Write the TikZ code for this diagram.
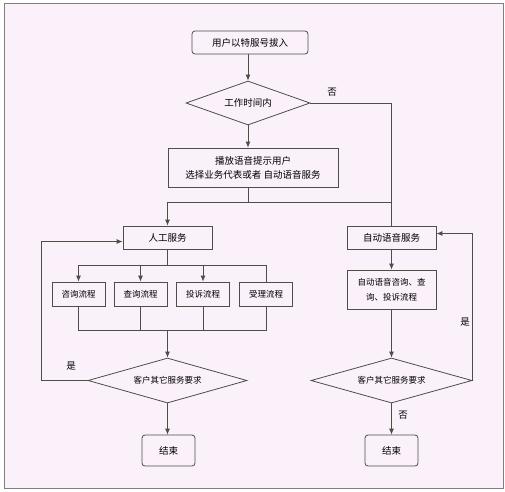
\documentclass[tikz,border=0pt]{standalone}
\usepackage{fontspec}
\newfontfamily\cjk{Noto Sans CJK SC}
\usetikzlibrary{shapes.geometric,arrows.meta}
\definecolor{bgpink}{RGB}{251,241,251}
\definecolor{linegray}{RGB}{78,78,70}
\tikzset{
  box/.style={draw=linegray, line width=0.8pt, inner sep=1pt, align=center,
    font=\cjk\fontsize{9.5}{14}\selectfont},
  rbox/.style={box, rounded corners=3pt},
  smallbox/.style={box, minimum width=53pt, minimum height=24pt,
    font=\cjk\fontsize{8.5}{12}\selectfont},
  decide/.style={diamond, draw=linegray, line width=0.8pt, aspect=3, inner sep=0pt,
    font=\cjk\fontsize{9.5}{12}\selectfont},
  conn/.style={draw=linegray, line width=0.8pt},
  arr/.style={conn, -{Latex[length=6pt,width=5pt]}},
  lbl/.style={font=\cjk\fontsize{9.5}{12}\selectfont}
}
\begin{document}
\begin{tikzpicture}[x=1pt,y=-1pt]
			%%%%% START %%%%%
			\useasboundingbox (0,0) rectangle (505,491);
			\draw[fill=bgpink, draw=black!50] (4,3) rectangle (503,488);
			
			\node[rbox, minimum width=116pt, minimum height=23pt] (start) at (250,42.5) {用户以特服号拔入};
			\node[decide, minimum width=124pt, minimum height=44pt] (work) at (248,103) {工作时间内};
			\node[box, minimum width=170pt, minimum height=39pt] (play) at (253,167.5) {播放语音提示用户\\选择业务代表或者 自动语音服务};
			
			\node[box, minimum width=89pt, minimum height=23pt] (human) at (167.5,237.5) {人工服务};
			\node[box, minimum width=89pt, minimum height=23pt] (auto) at (391.5,237.5) {自动语音服务};
			
			\node[smallbox] (ask) at (78.5,294) {咨询流程};
			\node[smallbox] (query) at (140.5,294) {查询流程};
			\node[smallbox] (plaint) at (203,294) {投诉流程};
			\node[smallbox] (accept) at (266,294) {受理流程};
			\node[box, minimum width=89pt, minimum height=39pt, font=\cjk\fontsize{8.5}{15}\selectfont] (autoflow) at (391.5,289.5) {自动语音咨询、查\\询、投诉流程};
			
			\node[decide, minimum width=159pt, minimum height=45pt, font=\cjk\fontsize{8.5}{12}\selectfont] (more1) at (167.5,380.5) {客户其它服务要求};
			\node[decide, minimum width=161pt, minimum height=45pt, font=\cjk\fontsize{8.5}{12}\selectfont] (more2) at (391.5,380.5) {客户其它服务要求};
			
			\node[rbox, minimum width=53pt, minimum height=31pt] (end1) at (168.5,450.5) {结束};
			\node[rbox, minimum width=53pt, minimum height=31pt] (end2) at (391.5,450.5) {结束};
			
			\coordinate (split) at (work.south |- 0,202);
			\coordinate (fork) at (human.south |- 0,265.5);
			\coordinate (join) at (human.south |- 0,330);
			
			\draw[arr] (work.north |- start.south) -- (work.north);
			\draw[arr] (work.south) -- (work.south |- play.north);
			\draw[conn] (work.east) -| (auto.north);
			\node[lbl] (no1) at (332,92) {否};
			
			\draw[conn] (split |- play.south) -- (split);
			\draw[arr] (split) -| (human.north);
			\draw[conn] (split) -| (auto.north);
			
			\draw[conn] (human.south) -- (fork);
			\draw[arr] (fork) -| (ask.north);
			\draw[arr] (fork) -| (query.north);
			\draw[arr] (fork) -| (plaint.north);
			\draw[conn] (fork) -| (accept.north);
			
			\draw[conn] (ask.south) |- (join) -| (accept.south);
			\draw[conn] (query.south) -- (query.south |- join);
			\draw[conn] (plaint.south) -- (plaint.south |- join);
			\draw[arr] (join) -- (more1);
			\draw[arr] (more1.south) -- (more1.south |- end1.north);
			\draw[arr] (more1.west) -- ++(-46,0) |- ([yshift=-4pt]human.west);
			\node[lbl] (yes1) at (71,366) {是};
			
			\draw[arr] (auto) -- (autoflow);
			\draw[arr] (autoflow) -- (more2);
			\draw[arr] (more2) -- (end2);
			\node[lbl] (no2) at (403,415) {否};
			\draw[arr] (more2.east) |- ([yshift=4pt]auto.east);
			\node[lbl] (yes2) at (465,322) {是};
			%%%%% END %%%%%
\end{tikzpicture}
\end{document}
